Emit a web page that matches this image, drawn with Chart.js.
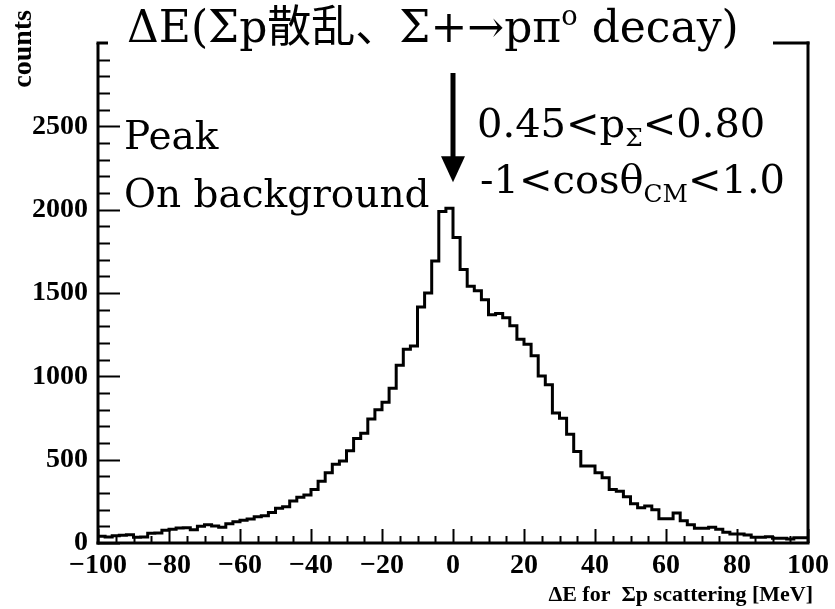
<!DOCTYPE html>
<html>
<head>
<meta charset="utf-8">
<script src="https://cdn.jsdelivr.net/npm/chart.js@4.4.1/dist/chart.umd.min.js"></script>
<style>
  html, body { margin: 0; padding: 0; background: #fff; }
</style>
</head>
<body>
<canvas id="chart" width="835" height="609"></canvas>
<script>
// Delta E for Sigma-p scattering, 2 MeV bins from -100 to 100 MeV
const binStart = -100;
const binWidth = 2;
const counts = [
  44, 40, 36, 44, 46, 50, 34, 36, 58, 60,
  76, 82, 90, 92, 80, 100, 110, 102, 94, 116,
  128, 136, 144, 158, 164, 183, 208, 218, 252, 274,
  288, 321, 371, 421, 472, 492, 553, 627, 659, 744,
  800, 845, 928, 1067, 1162, 1182, 1416, 1500, 1692, 1989,
  2009, 1833, 1641, 1541, 1514, 1460, 1369, 1377, 1352, 1303,
  1222, 1192, 1123, 1002, 950, 780, 748, 653, 549, 462,
  462, 421, 391, 321, 311, 278, 235, 212, 222, 200,
  145, 145, 180, 133, 109, 89, 89, 95, 83, 65,
  54, 54, 48, 34, 34, 38, 28, 28, 24, 32
];

const xRange = [-100, 100];
const yRange = [0, 3000];
const xLabelStep = 20;
const yLabelStep = 500;

// arrow marking the peak, in data units
const arrowX = 0;
const arrowFrom = 2820;
const arrowTo = 2165;

const serif = "'DejaVu Serif', 'Noto Sans CJK JP', serif";
const tickFont = { family: 'Liberation Serif', size: 28, weight: 'bold' };

const points = counts.map((c, i) => ({ x: binStart + i * binWidth, y: c }));
points.push({ x: binStart + counts.length * binWidth, y: counts[counts.length - 1] });

function seg(ctx, x1, y1, x2, y2) {
  ctx.beginPath();
  ctx.moveTo(x1, y1);
  ctx.lineTo(x2, y2);
  ctx.stroke();
}

// draws text pieces one after another; sub/sup pieces are smaller and shifted
function pieces(ctx, x, y, size, parts) {
  let cx = x;
  parts.forEach(p => {
    const s = p.sub || p.sup ? size * 0.62 : size;
    const dy = p.sub ? size * 0.22 : p.sup ? -size * 0.38 : 0;
    ctx.font = s + 'px ' + serif;
    ctx.fillText(p.t, cx, y + dy);
    cx += ctx.measureText(p.t).width;
  });
}

const frameAndNotes = {
  id: 'frameAndNotes',
  afterDraw(chart) {
    const { ctx, chartArea: a, scales: { x, y } } = chart;
    ctx.save();
    ctx.strokeStyle = '#000';
    ctx.fillStyle = '#000';

    // inward ticks
    ctx.lineWidth = 2;
    for (let v = yRange[0]; v < yRange[1]; v += 100) {
      const py = Math.round(y.getPixelForValue(v)) + 0.5;
      seg(ctx, a.left, py, a.left + (v % yLabelStep === 0 ? 22 : 12), py);
    }
    for (let v = xRange[0]; v <= xRange[1]; v += 5) {
      const px = Math.round(x.getPixelForValue(v)) + 0.5;
      seg(ctx, px, a.bottom, px, a.bottom - (v % xLabelStep === 0 ? 14 : 7));
    }

    // frame, top edge hidden behind the title box
    ctx.lineWidth = 3;
    seg(ctx, a.left, a.top, a.left, a.bottom + 1.5);
    seg(ctx, a.left - 1.5, a.bottom, a.right + 1.5, a.bottom);
    seg(ctx, a.right, a.top - 1.5, a.right, a.bottom);
    seg(ctx, a.left - 1.5, a.top, a.left + 10, a.top);
    seg(ctx, a.right - 35, a.top, a.right + 1.5, a.top);

    // axis titles
    ctx.save();
    ctx.translate(31, a.top - 33);
    ctx.rotate(-Math.PI / 2);
    ctx.font = "bold 28px 'Liberation Serif'";
    ctx.textAlign = 'right';
    ctx.textBaseline = 'alphabetic';
    ctx.fillText('counts', 0, 0);
    ctx.restore();

    ctx.font = "bold 22px 'Liberation Serif'";
    ctx.textAlign = 'right';
    ctx.textBaseline = 'alphabetic';
    ctx.fillText('ΔE for  Σp scattering [MeV]', a.right + 5, a.bottom + 58);

    // title
    ctx.textAlign = 'left';
    pieces(ctx, 127, 42, 44, [
      { t: 'ΔE(Σp散乱、Σ+→pπ' }, { t: 'o', sup: true }, { t: ' decay)' }
    ]);

    // arrow
    const ax = x.getPixelForValue(arrowX);
    const ay1 = y.getPixelForValue(arrowFrom);
    const ay2 = y.getPixelForValue(arrowTo);
    ctx.lineWidth = 5;
    seg(ctx, ax, ay1, ax, ay2 - 22);
    ctx.beginPath();
    ctx.moveTo(ax - 12, ay2 - 26);
    ctx.lineTo(ax + 12, ay2 - 26);
    ctx.lineTo(ax, ay2);
    ctx.closePath();
    ctx.fill();

    // notes
    pieces(ctx, 124, 149, 39, [{ t: 'Peak' }]);
    pieces(ctx, 124, 207, 39, [{ t: 'On background' }]);
    pieces(ctx, 477, 137, 40, [{ t: '0.45<p' }, { t: 'Σ', sub: true }, { t: '<0.80' }]);
    pieces(ctx, 480, 193, 40, [{ t: '-1<cosθ' }, { t: 'CM', sub: true }, { t: '<1.0' }]);
    ctx.restore();
  }
};

const config = {
  type: 'line',
  data: {
    datasets: [{
      label: 'counts',
      data: points,
      stepped: 'after',
      borderColor: '#000',
      borderWidth: 3,
      pointRadius: 0,
      fill: false,
      tension: 0
    }]
  },
  options: {
    responsive: false,
    animation: false,
    devicePixelRatio: 1,
    layout: { autoPadding: false, padding: { top: 43, right: 22, left: 0, bottom: 0 } },
    scales: {
      x: {
        type: 'linear',
        min: xRange[0],
        max: xRange[1],
        afterFit: s => { s.height = 66; },
        grid: { display: false, drawTicks: false },
        border: { display: false },
        ticks: {
          stepSize: xLabelStep,
          autoSkip: false,
          maxRotation: 0,
          padding: 6,
          color: '#000',
          font: tickFont,
          callback: v => (v < 0 ? '\u2212' + Math.abs(v) : String(v))
        }
      },
      y: {
        type: 'linear',
        min: yRange[0],
        max: yRange[1],
        afterFit: s => { s.width = 98; },
        grid: { display: false, drawTicks: false },
        border: { display: false },
        ticks: {
          stepSize: yLabelStep,
          autoSkip: false,
          padding: 10,
          color: '#000',
          font: tickFont,
          callback: v => (v < yRange[1] ? String(v) : '')
        }
      }
    },
    plugins: {
      legend: { display: false },
      tooltip: { enabled: false }
    }
  },
  plugins: [frameAndNotes]
};

new Chart(document.getElementById('chart'), config);
</script>
</body>
</html>
